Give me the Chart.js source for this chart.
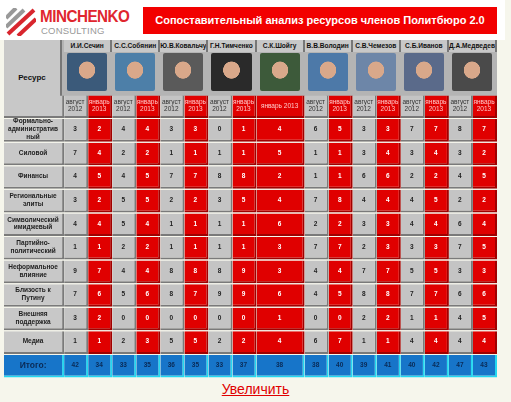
<!DOCTYPE html>
<html><head><meta charset="utf-8">
<script src="https://cdn.jsdelivr.net/npm/chart.js@4"></script>
<style>
body{margin:0;background:#f6f6ec;font-family:Arial,"Liberation Sans",sans-serif;width:511px;height:402px;overflow:hidden;position:relative}
.abs{position:absolute}
.nm{position:absolute;top:40px;height:12px;background:#c8c8c8;font-size:6.6px;font-weight:bold;color:#111;text-align:center;line-height:12px;overflow:hidden;white-space:nowrap;border-right:2px solid #777}
.ph{position:absolute;top:53px;height:38px;border-radius:2px}
</style></head><body>
<div class="abs" style="left:0;top:0;width:505px;height:40px;background:#fff"></div>
<svg class="abs" style="left:6px;top:8px" width="30" height="28"><g stroke="#d8262e" stroke-width="4"><line x1="2" y1="26" x2="28" y2="2"/><line x1="12" y1="28" x2="30" y2="11"/></g><g stroke="#999" stroke-width="4"><line x1="0" y1="10" x2="10" y2="0"/><line x1="0" y1="19" x2="18" y2="2"/></g></svg>
<div class="abs" style="left:40px;top:8px;font-size:16px;font-weight:900;color:#e0262e;letter-spacing:-0.5px;transform:scaleX(0.95);transform-origin:left">MINCHENKO</div>
<div class="abs" style="left:41px;top:25px;font-size:9.5px;color:#999;letter-spacing:0.2px">CONSULTING</div>
<div class="abs" style="left:143px;top:7px;width:354px;height:27px;background:#f20000;color:#fff;font-weight:bold;font-size:11px;line-height:27px;text-align:center;white-space:nowrap">Сопоставительный анализ ресурсов членов Политбюро 2.0</div>
<div class="abs" style="left:4px;top:40px;width:493px;height:56px;background:#b4b4b4"></div>
<div class="abs" style="left:4px;top:40px;width:56px;height:76px;background:#c8c8c8;border-right:2px solid #777;font-size:8px;font-weight:bold;line-height:76px;text-align:center;color:#111">Ресурс</div>
<div id="hdr"></div>
<canvas id="c" class="abs" style="left:4px;top:95px"></canvas>
<div class="abs" style="left:0;top:381px;width:511px;text-align:center;font-size:14px;color:#e00000;text-decoration:underline">Увеличить</div>
<script>
const names=["И.И.Сечин","С.С.Собянин","Ю.В.Ковальчук","Г.Н.Тимченко","С.К.Шойгу","В.В.Володин","С.В.Чемезов","С.Б.Иванов","Д.А.Медведев"];
const photoColors=["#3b5a7a","#4d7fa8","#5a5a5a","#2a2a2a","#3d5a3a","#4d79a8","#6d86a8","#5a6a8a","#4a4a4a"];
const resources=["","Формально-\nадминистратив\nный","Силовой","Финансы","Региональные\nэлиты","Символический\nимиджевый","Партийно-\nполитический","Неформальное\nвлияние","Близость к\nПутину","Внешняя\nподдержка","Медиа","Итого:"];
const sechinAug=[3,7,4,3,4,1,9,7,3,1,42], sechinJan=[2,4,5,2,4,1,7,6,2,1,34];
const sobyaninAug=[4,2,4,5,5,2,4,5,0,2,33], sobyaninJan=[4,2,5,5,4,2,4,6,0,3,35];
const kovalchukAug=[3,1,7,2,1,1,8,8,0,5,36], kovalchukJan=[3,1,7,2,1,1,8,7,0,5,35];
const timchenkoAug=[0,1,8,3,1,1,8,9,0,2,33], timchenkoJan=[1,1,8,5,1,1,9,9,0,2,37];
const shoiguJan=[4,5,2,4,6,3,3,6,1,4,38];
const volodinAug=[6,1,1,7,2,7,4,4,0,6,38], volodinJan=[5,1,1,8,2,7,4,5,0,7,40];
const chemezovAug=[3,3,6,4,3,2,7,8,2,1,39], chemezovJan=[3,4,6,4,3,3,7,8,2,1,41];
const ivanovAug=[7,3,2,4,4,3,5,7,1,4,40], ivanovJan=[7,4,2,5,4,3,5,7,1,4,42];
const medvedevAug=[8,3,4,2,6,7,3,6,4,4,47], medvedevJan=[7,2,5,2,4,5,3,6,5,4,43];
const augSeries=[sechinAug,sobyaninAug,kovalchukAug,timchenkoAug,null,volodinAug,chemezovAug,ivanovAug,medvedevAug];
const janSeries=[sechinJan,sobyaninJan,kovalchukJan,timchenkoJan,shoiguJan,volodinJan,chemezovJan,ivanovJan,medvedevJan];
const subAug="август\n2012", subJan="январь\n2013";

const W=493,H=283,unit=W/20.5,R0=2.5;
const cv=document.getElementById('c');cv.width=W;cv.height=H;cv.style.width=W+'px';cv.style.height=H+'px';
let hdr='';
names.forEach((n,i)=>{const x=4+(R0+2*i)*unit;
 hdr+=`<div class="nm" style="left:${x}px;width:${2*unit-2}px">${n}</div>`;
 hdr+=`<div class="ph" style="left:${x+3}px;width:${2*unit-8}px;background:radial-gradient(ellipse at 50% 45%,#d9a88a 0 28%,${photoColors[i]} 30%)"></div>`;});
document.getElementById('hdr').innerHTML=hdr;

const labels=resources.map((r,i)=>'r'+i);
const datasets=[];
function colOf(kind,i){return i===11?'#1775c9':(kind==='j'?'#e00000':'#c4c4c4');}
datasets.push({texts:resources,kind:'r',data:labels.map(l=>({y:l,x:[0,R0]}))});
for(let p=0;p<9;p++){const s=R0+2*p;
 if(augSeries[p]) {
  datasets.push({kind:'a',texts:[subAug,...augSeries[p]],data:labels.map(l=>({y:l,x:[s,s+1]}))});
  datasets.push({kind:'j',texts:[subJan,...janSeries[p]],data:labels.map(l=>({y:l,x:[s+1,s+2]}))});
 } else datasets.push({kind:'j',texts:["январь 2013",...janSeries[p]],data:labels.map(l=>({y:l,x:[s,s+2]}))});
}
datasets.forEach(d=>{
 d.backgroundColor=ctx=>{const i=ctx.dataIndex;if(d.kind==='r')return i===11?'#1775c9':'#c8c8c8';return colOf(d.kind,i);};
 d.borderColor=ctx=>ctx.dataIndex===11?'#22d8f0':(d.kind==='j'?'#a00000':'#7a7a7a');
 d.borderWidth={right:2,bottom:2,left:0,top:0};d.borderSkipped=false;
 d.barPercentage=1;d.categoryPercentage=0.96;d.grouped=false;
});
const textPlugin={id:'txt',afterDatasetsDraw(ch){const c=ch.ctx;
 ch.data.datasets.forEach((d,di)=>{ch.getDatasetMeta(di).data.forEach((el,i)=>{
  let t=String(d.texts[i]);const cx=(el.base+el.x)/2-1,cy=el.y-1;
  c.save();c.textAlign='center';c.textBaseline='middle';
  let fs,bold=true,col;
  if(i===0){if(d.kind==='r'){c.restore();return;}fs=6.5;bold=false;col=d.kind==='j'?'#ffc8c8':'#333';}
  else if(i===11){fs=d.kind==='r'?8.5:6.5;col='#0a2a55';}
  else if(d.kind==='r'){fs=6.5;col='#222';}
  else{fs=6.5;col=d.kind==='j'?'#fff':'#222';}
  c.font=(bold?'bold ':'')+fs+'px Arial';c.fillStyle=col;
  const lines=t.split('\n');const lh=fs+1.3;
  lines.forEach((ln,k)=>c.fillText(ln,cx,cy+(k-(lines.length-1)/2)*lh));
  c.restore();});});}};
new Chart(cv,{type:'bar',data:{labels,datasets},plugins:[textPlugin],
 options:{indexAxis:'y',responsive:false,animation:false,layout:{padding:0},
  plugins:{legend:{display:false},tooltip:{enabled:false}},
  scales:{x:{type:'linear',min:0,max:20.5,display:false},y:{display:false,offset:true}}}});
</script></body></html>
